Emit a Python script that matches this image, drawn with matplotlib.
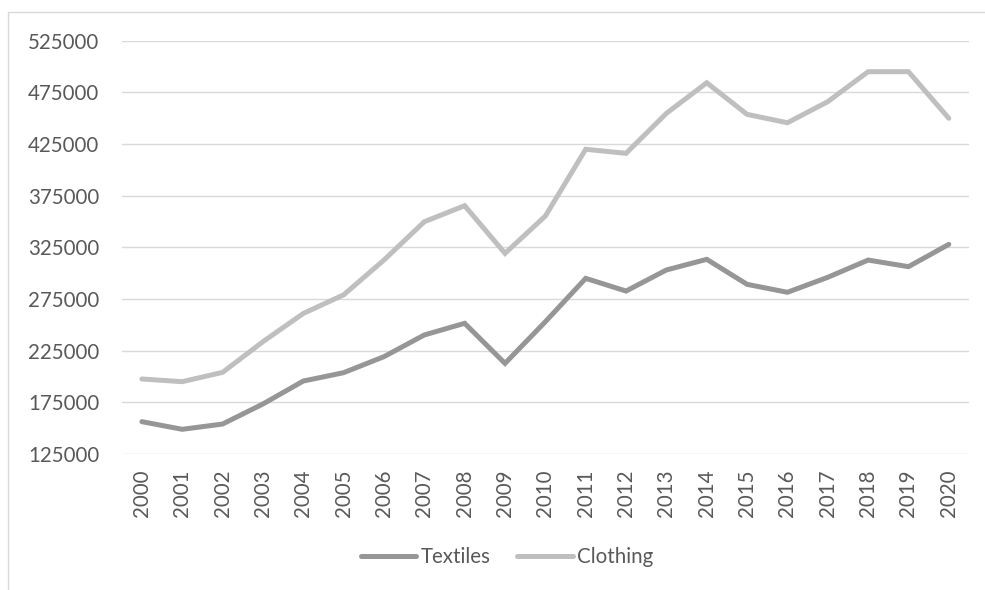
import matplotlib.pyplot as plt
from matplotlib.patches import Rectangle

years = [str(y) for y in range(2000, 2021)]
textiles = [156300, 148900, 154000, 173400, 195600, 203700, 219200, 240200, 251500, 212700,
            253000, 295000, 282700, 303100, 313400, 289200, 281500, 296000, 312700, 306300, 327900]
clothing = [197600, 195000, 204000, 233700, 261000, 279000, 312700, 349800, 365300, 319200,
            355300, 419900, 416000, 454700, 484300, 453700, 445600, 466000, 495000, 495000, 449900]
yticks = list(range(125000, 525001, 50000))

plt.rcParams['font.family'] = ['Lato', 'DejaVu Sans']
txt = '#595959'

fig = plt.figure(figsize=(9.85, 5.9), dpi=100)
W, H = 985, 590
ax = fig.add_axes([121.7 / W, 1 - 454 / H, (969 - 121.7) / W, (454 - 40.7) / H])

# chart area frame (only top and left edges show)
fig.patches.append(Rectangle((8 / W, -0.1), 1.2, 1.1 - 11.7 / H, transform=fig.transFigure,
                             fill=False, edgecolor='#D9D9D9', lw=1.0))

x = range(len(years))
ax.plot(x, textiles, color='#969696', lw=3.6, solid_capstyle='round', solid_joinstyle='miter', label='Textiles')
ax.plot(x, clothing, color='#BFBFBF', lw=3.6, solid_capstyle='round', solid_joinstyle='miter', label='Clothing')

ax.set_xlim(-0.5, len(years) - 0.5)
ax.set_ylim(125000, 525000)
ax.set_yticks(yticks)
ax.set_yticklabels([str(v) for v in yticks])
ax.set_xticks(list(x))
ax.set_xticklabels(years, rotation=90)
ax.grid(axis='y', color='#D9D9D9', lw=1.0)
ax.set_axisbelow(True)
for s in ax.spines.values():
    s.set_visible(False)
ax.tick_params(axis='y', length=0, pad=16, labelsize=14.8, labelcolor=txt)
ax.tick_params(axis='x', length=0, pad=11, labelsize=14.8, labelcolor=txt)

fig.legend(loc='center', bbox_to_anchor=(507 / W, 1 - 557 / H), ncol=2, frameon=False,
           fontsize=14.8, labelcolor=txt, handlelength=2.7, handletextpad=0.2, columnspacing=1.3)

fig.savefig('out.png', dpi=100)
